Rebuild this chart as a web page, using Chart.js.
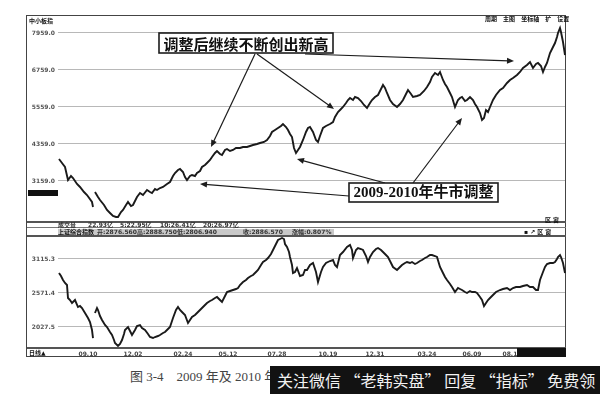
<!DOCTYPE html>
<html>
<head>
<meta charset="utf-8">
<script src="https://cdn.jsdelivr.net/npm/chart.js@4.4.1/dist/chart.umd.min.js"></script>
<style>
  body { margin: 0; width: 600px; height: 394px; background: #fff; position: relative; overflow: hidden;
         font-family: "DejaVu Sans", "Noto Sans CJK SC", sans-serif; }
  .abs { position: absolute; }
  .tiny { font-size: 6px; line-height: 6px; color: #333; font-weight: bold; white-space: nowrap; }
  .hline { position: absolute; left: 27px; width: 539px; background: #555; }
</style>
</head>
<body>
<!-- frame -->
<div class="abs" style="left:26px;top:15px;width:538px;height:340px;border:1.5px solid #444;"></div>
<div class="hline" style="top:221px;height:1.5px;"></div>
<div class="hline" style="top:227px;height:1px;background:#777;"></div>
<div class="hline" style="top:235px;height:1.5px;"></div>
<div class="hline" style="top:347px;height:1.5px;"></div>

<canvas id="chart-top" class="abs" width="539" height="204" style="left:27px;top:16px;"></canvas>
<canvas id="chart-bot" class="abs" width="539" height="122" style="left:27px;top:236px;"></canvas>

<!-- software chrome bits -->
<div class="abs tiny" style="left:29px;top:18px;color:#111;">中小板指</div>
<div class="abs tiny" style="left:485px;top:16px;color:#111;word-spacing:4px;">周期 主图 坐标轴 扩 设置</div>
<div class="abs" style="left:28px;top:190px;width:30px;height:6px;background:#111;"></div>

<div class="abs tiny" style="left:58px;top:222px;">成交量</div>
<div class="abs tiny" style="left:88px;top:222px;">22.93亿</div>
<div class="abs tiny" style="left:120px;top:222px;">5:22.95亿</div>
<div class="abs tiny" style="left:160px;top:222px;">10:26.41亿</div>
<div class="abs tiny" style="left:203px;top:222px;">20:26.97亿</div>
<div class="abs tiny" style="left:545px;top:217px;color:#111;">区 窗</div>

<div class="abs" style="left:58px;top:229px;width:276px;height:6px;background:#c9c9c9;"></div>
<div class="abs tiny" style="left:58px;top:229px;color:#111;">上证综合指数</div>
<div class="abs tiny" style="left:97px;top:229px;">开:2876.560</div>
<div class="abs tiny" style="left:137px;top:229px;">高:2888.750</div>
<div class="abs tiny" style="left:177px;top:229px;">低:2806.940</div>
<div class="abs tiny" style="left:243px;top:229px;">收:2886.570</div>
<div class="abs tiny" style="left:292px;top:229px;">涨幅:0.807%</div>
<div class="abs tiny" style="left:524px;top:229px;color:#111;">▪ ↗ 区 窗</div>

<div class="abs tiny" style="left:29px;top:350px;color:#111;">日线▲</div>
<div class="abs" style="left:517px;top:348px;width:49px;height:9px;background:#111;"></div>

<!-- caption + watermark -->
<div class="abs" style="left:130px;top:369px;font-size:13px;line-height:16px;color:#444;font-family:'Liberation Serif','Noto Sans CJK SC',serif;white-space:nowrap;">图 3-4　2009 年及 2010 年</div>
<div class="abs" style="left:270px;top:366px;width:330px;height:28px;background:#121212;overflow:hidden;">
  <div style="position:absolute;left:7px;top:3px;font-size:16px;line-height:22px;color:#f2f2f2;font-family:'Noto Sans CJK SC',sans-serif;white-space:nowrap;">关注微信 “老韩实盘” 回复 “指标” 免费领</div>
</div>

<script>
// trading-day index (0 = left edge of the panel) and closing values
const topDays = [1, 4, 7, 10, 13, 15, 19, 22, 26, 29, 34, 35, 36, 37, 40, 42, 46, 49, 52, 55, 58, 60,
  63, 65, 68, 70, 73, 75, 79, 82, 85, 89, 92, 94, 97, 99, 102, 105, 109, 112, 115, 117, 120, 122,
  125, 127, 129, 132, 134, 137, 139, 142, 144, 147, 149, 152, 154, 157, 159, 162, 164, 167, 169,
  172, 175, 178, 182, 185, 189, 192, 195, 199, 202, 206, 209, 212, 214, 217, 220, 223, 225, 228,
  230, 232, 234, 236, 238, 240, 242, 245, 248, 250, 252, 255, 258, 260, 262, 265, 268, 272, 275,
  277, 280, 283, 285, 288, 290, 292, 295, 297, 300, 303, 306, 309, 312, 314, 317, 320, 323, 325,
  327, 329, 332, 335, 339, 342, 345, 348, 350, 353, 355, 359, 362, 366, 369, 372, 374, 377, 380,
  382, 385, 387, 389, 392, 394, 397, 400, 402, 404, 407, 409, 412, 415, 417, 419, 422, 424, 426,
  428, 430, 432, 435, 438, 442, 445, 449, 452, 455, 459, 462, 465, 469, 472, 475, 478, 480, 483,
  485, 487, 489, 492, 495, 497, 499, 500, 502, 503, 504, 505, 507];
const topClose = [3872, 3743, 3613, 3191, 3321, 3256, 3062, 2964, 2802, 2705, 2478, 2316, null, 2802,
  2640, 2543, 2381, 2219, 2121, 2024, 1992, 1992, 2154, 2219, 2381, 2478, 2348, 2381, 2640, 2770,
  2705, 2867, 2802, 2770, 2900, 2867, 2932, 2964, 3062, 3127, 3321, 3418, 3516, 3548, 3451, 3289,
  3191, 3321, 3354, 3321, 3418, 3483, 3613, 3678, 3743, 3840, 3937, 4067, 4132, 4035, 4002, 4164,
  4197, 4132, 4164, 4229, 4229, 4262, 4262, 4294, 4326, 4359, 4391, 4424, 4489, 4618, 4748, 4813,
  4878, 4943, 5008, 4910, 4813, 4683, 4586, 4229, 4067, 4164, 4262, 4489, 4748, 4878, 4910, 4748,
  4489, 4424, 4618, 4878, 4943, 5008, 5072, 5235, 5397, 5494, 5559, 5689, 5786, 5851, 5786, 5883,
  5851, 5753, 5624, 5526, 5689, 5786, 5883, 5948, 6143, 6272, 6175, 6013, 5786, 5656, 5559, 5656,
  5786, 5981, 6110, 5981, 5883, 5916, 5948, 6078, 6207, 6370, 6532, 6661, 6597, 6694, 6435, 6305,
  6207, 6013, 5883, 5559, 5786, 5851, 5883, 5753, 5786, 5883, 5786, 5656, 5559, 5364, 5137, 5202,
  5461, 5397, 5559, 5786, 5948, 6110, 6175, 6337, 6435, 6499, 6597, 6694, 6824, 6921, 7018, 6824,
  6953, 6986, 6888, 6694, 6856, 6986, 7310, 7505, 7634, 7829, 7959, 8121, 7991, 7829, 7667, 7245];

const botDays = [1, 3, 5, 7, 9, 10, 12, 14, 17, 20, 22, 24, 27, 30, 32, 34, 35, 36, 37, 39, 40, 42,
  44, 47, 49, 52, 54, 56, 57, 60, 62, 64, 66, 67, 70, 72, 74, 77, 79, 82, 84, 87, 90, 92, 95, 97,
  100, 102, 105, 107, 110, 112, 115, 118, 120, 122, 124, 127, 130, 132, 134, 137, 139, 142, 144,
  147, 149, 152, 154, 157, 159, 162, 164, 167, 169, 172, 175, 178, 180, 182, 185, 188, 190, 193,
  195, 198, 200, 203, 205, 208, 210, 213, 215, 218, 220, 222, 224, 226, 227, 229, 231, 232, 234,
  235, 237, 239, 242, 245, 247, 249, 252, 255, 258, 260, 263, 265, 268, 272, 275, 277, 279, 282,
  285, 289, 292, 294, 295, 298, 300, 303, 305, 308, 310, 312, 315, 318, 320, 323, 325, 328, 330,
  333, 335, 339, 342, 344, 347, 349, 352, 354, 357, 359, 362, 364, 367, 369, 372, 374, 377, 379,
  382, 385, 387, 389, 392, 394, 397, 400, 402, 404, 407, 409, 412, 414, 417, 419, 422, 424, 426,
  428, 430, 432, 435, 438, 442, 445, 449, 452, 455, 458, 462, 465, 469, 472, 475, 478, 480, 482,
  485, 487, 489, 492, 495, 497, 499, 500, 502, 503, 505, 507];
const botClose = [2891, 2843, 2779, 2731, 2699, 2491, 2459, 2411, 2459, 2347, 2363, 2331, 2251, 2171,
  2107, 1979, 1851, null, 2251, 2331, 2299, 2203, 2139, 2059, 2027, 1947, 1899, 1819, 1771, 1723,
  1755, 1819, 1915, 1979, 2027, 1963, 1899, 1979, 2043, 2059, 2011, 1979, 1915, 1867, 1851, 1867,
  1883, 1899, 1931, 1947, 1995, 2027, 2171, 2299, 2347, 2299, 2267, 2219, 2091, 2139, 2187, 2219,
  2251, 2299, 2331, 2379, 2411, 2443, 2459, 2491, 2507, 2459, 2427, 2523, 2587, 2603, 2619, 2635,
  2651, 2699, 2747, 2779, 2811, 2843, 2859, 2907, 2939, 3019, 3067, 3099, 3131, 3195, 3259, 3355,
  3419, 3435, 3451, 3435, 3355, 3307, 3227, 3147, 3019, 2891, 2907, 2971, 2843, 2859, 2939, 2939,
  3019, 3051, 2907, 2747, 2907, 2987, 3051, 3083, 3099, 3019, 2987, 3179, 3227, 3307, 3339, 3259,
  3131, 3259, 3291, 3275, 3259, 3163, 3067, 3147, 3227, 3275, 3291, 3259, 3227, 3179, 3147, 3051,
  2987, 2939, 2987, 3019, 3051, 3067, 3051, 3067, 3035, 3051, 3083, 3099, 3131, 3147, 3179, 3179,
  3163, 3147, 2987, 2891, 2827, 2779, 2715, 2667, 2587, 2651, 2635, 2619, 2587, 2571, 2603, 2587,
  2587, 2571, 2507, 2459, 2363, 2411, 2459, 2491, 2539, 2587, 2619, 2635, 2651, 2619, 2651, 2667,
  2667, 2683, 2699, 2667, 2667, 2619, 2619, 2779, 2907, 2987, 3035, 3051, 3051, 3067, 3115, 3147,
  3179, 3147, 3051, 2891];

const topTicks = [3159, 4359, 5559, 6759, 7959];
const botTicks = [2027.5, 2571.4, 3115.3];
const dateTickDays = [30, 75, 125, 170, 219, 270, 317, 369, 414, 454];
const dateTickLabels = ['09.10', '12.02', '02.24', '05.12', '07.28', '10.19', '12.31', '03.24', '06.09', '08.16'];

// callouts, in page pixels (canvas sits at 27,16)
const callouts = [
  {
    text: '调整后继续不断创出新高', x: 159, y: 33, w: 174, h: 20,
    font: 'bold 15px "Noto Sans CJK SC", sans-serif',
    arrows: [[255, 54, 211, 147], [257, 54, 334, 109], [305, 54, 514, 61]],
  },
  {
    text: '2009-2010年牛市调整', x: 349, y: 183, w: 149, h: 19,
    font: 'bold 15px "Liberation Serif", "Noto Sans CJK SC", serif',
    arrows: [[413, 183, 462, 118], [385, 183, 297, 159], [349, 196, 200, 184]],
  },
];

function drawArrow(ctx, x1, y1, x2, y2) {
  const ang = Math.atan2(y2 - y1, x2 - x1);
  ctx.beginPath();
  ctx.moveTo(x1, y1);
  ctx.lineTo(x2 - 5 * Math.cos(ang), y2 - 5 * Math.sin(ang));
  ctx.stroke();
  ctx.beginPath();
  ctx.moveTo(x2, y2);
  ctx.lineTo(x2 - 7 * Math.cos(ang) + 3 * Math.sin(ang), y2 - 7 * Math.sin(ang) - 3 * Math.cos(ang));
  ctx.lineTo(x2 - 7 * Math.cos(ang) - 3 * Math.sin(ang), y2 - 7 * Math.sin(ang) + 3 * Math.cos(ang));
  ctx.closePath();
  ctx.fill();
}

const calloutPlugin = {
  id: 'callouts',
  afterDraw(chart) {
    const ctx = chart.ctx;
    ctx.save();
    ctx.translate(-27, -16);
    callouts.forEach((c) => {
      ctx.strokeStyle = '#1c1c1c';
      ctx.fillStyle = '#1c1c1c';
      ctx.lineWidth = 1.2;
      c.arrows.forEach((a) => drawArrow(ctx, a[0], a[1], a[2], a[3]));
      ctx.fillStyle = '#fff';
      ctx.fillRect(c.x, c.y, c.w, c.h);
      ctx.lineWidth = 1.6;
      ctx.strokeRect(c.x, c.y, c.w, c.h);
      ctx.fillStyle = '#111';
      ctx.font = c.font;
      ctx.textAlign = 'center';
      ctx.textBaseline = 'middle';
      ctx.fillText(c.text, c.x + c.w / 2, c.y + c.h / 2 + 1);
    });
    ctx.restore();
  },
};

function yAxis(ticks, min, max) {
  return {
    type: 'linear', min, max,
    afterBuildTicks: (s) => { s.ticks = ticks.map((v) => ({ value: v })); },
    afterFit: (s) => { s.width = 31; s.paddingTop = 0; s.paddingBottom = 0; },
    grid: { display: true, color: '#b8b8b8', lineWidth: 1, drawTicks: false, drawOnChartArea: true },
    border: { display: false },
    ticks: {
      padding: 3, color: '#555',
      font: { family: 'DejaVu Sans', size: 6, weight: 'bold' },
      callback: (v) => Number(v).toFixed(1),
    },
  };
}

const lineStyle = {
  borderColor: '#1a1a1a', borderWidth: 1.9, pointRadius: 0, tension: 0, clip: false, spanGaps: false,
};

new Chart(document.getElementById('chart-top'), {
  type: 'line',
  data: {
    datasets: [{ ...lineStyle, data: topDays.map((d, i) => ({ x: d, y: topClose[i] })) }],
  },
  options: {
    responsive: false, animation: false,
    layout: { padding: { left: 0, right: 1, top: 0, bottom: 0 } },
    plugins: { legend: { display: false }, tooltip: { enabled: false } },
    scales: {
      x: { type: 'linear', min: 0, max: 507, display: false },
      y: yAxis(topTicks, 1894, 8510),
    },
  },
  plugins: [calloutPlugin],
});

new Chart(document.getElementById('chart-bot'), {
  type: 'line',
  data: {
    datasets: [{ ...lineStyle, data: botDays.map((d, i) => ({ x: d, y: botClose[i] })) }],
  },
  options: {
    responsive: false, animation: false,
    layout: { padding: { left: 0, right: 1, top: 0, bottom: 0 } },
    plugins: { legend: { display: false }, tooltip: { enabled: false } },
    scales: {
      x: {
        type: 'linear', min: 0, max: 507,
        afterBuildTicks: (s) => { s.ticks = dateTickDays.map((v) => ({ value: v })); },
        afterFit: (s) => { s.height = 10; s.paddingLeft = 0; s.paddingRight = 0; },
        grid: { display: false, drawTicks: false },
        border: { display: false },
        ticks: {
          autoSkip: false, maxRotation: 0, padding: 3, color: '#444',
          font: { family: 'DejaVu Sans', size: 6, weight: 'bold' },
          callback: (v) => dateTickLabels[dateTickDays.indexOf(v)],
        },
      },
      y: yAxis(botTicks, 1691.3, 3483.3),
    },
  },
});
</script>
</body>
</html>
